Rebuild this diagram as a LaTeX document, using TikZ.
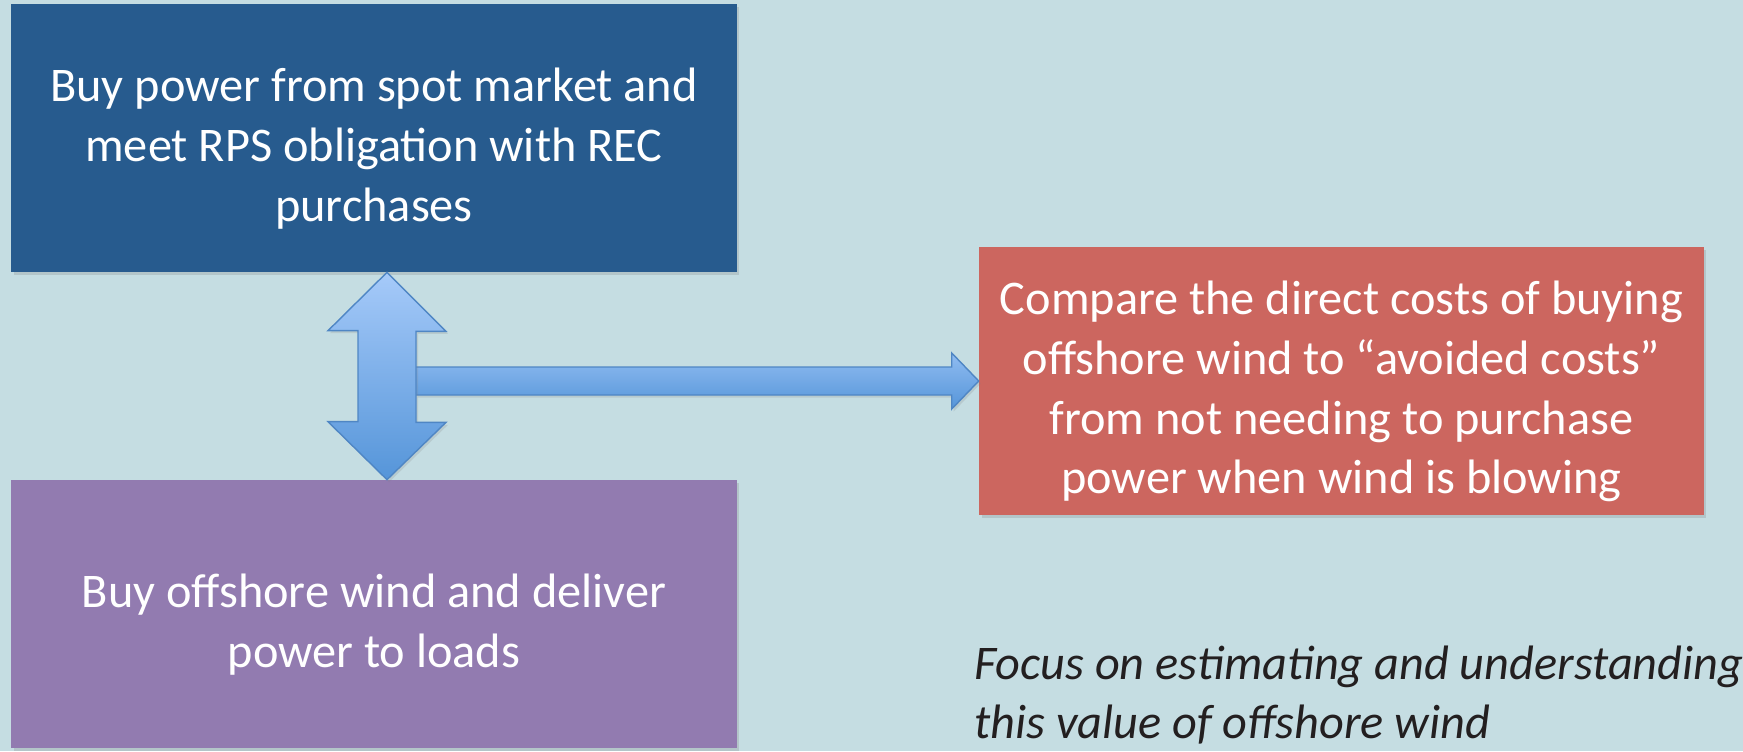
\documentclass[tikz,border=0pt]{standalone}
\usepackage{fontspec}
\setmainfont{Carlito}
\usetikzlibrary{shadows}
\newcommand{\boxstrut}{\rule{0pt}{1.1cm}}

\begin{document}
\begin{tikzpicture}[x=0.02cm,y=-0.02cm,
  planbox/.style={rectangle,minimum width=14.52cm,minimum height=5.36cm,text=white,align=center,
    font=\fontsize{27.5}{34}\selectfont,drop shadow={opacity=0.25,shadow xshift=0.05cm,shadow yshift=-0.06cm}},
  fatarrow/.style={draw=arrowline,line width=0.8pt,line join=miter,drop shadow={opacity=0.2,shadow xshift=0.04cm,shadow yshift=-0.05cm}}]
\definecolor{bgblue}{HTML}{C5DDE2}
\definecolor{spotblue}{HTML}{275B8E}
\definecolor{windpurple}{HTML}{927BB0}
\definecolor{costred}{HTML}{CC665F}
\definecolor{arrowtop}{HTML}{A6CAF9}
\definecolor{arrowmid}{HTML}{90BCF1}
\definecolor{arrowbot}{HTML}{5595D9}
\definecolor{arrowline}{HTML}{4F86C4}
\definecolor{notetext}{HTML}{231F20}
\fill[bgblue] (0,0) rectangle (1743,751);
\useasboundingbox (0,0) rectangle (1743,751);
\node [planbox,fill=spotblue] (spot) at (374,138) {\boxstrut Buy power from spot market and\\meet RPS obligation with REC\\purchases};
\node [planbox,fill=windpurple] (wind) at (374,614) {\boxstrut Buy offshore wind and deliver\\power to loads};
\node [planbox,fill=costred,minimum width=14.5cm] (cmp) at (1341.5,381) {\boxstrut Compare the direct costs of buying\\offshore wind to “avoided costs”\\from not needing to purchase\\power when wind is blowing};
\node [anchor=west,inner sep=0,align=left,text=notetext,font=\fontsize{27.5}{34}\selectfont\itshape] (focus) at (974,695) {Focus on estimating and understanding\\this value of offshore wind};
% block arrows
\coordinate (vt) at ([xshift=0.26cm]spot.south);
\coordinate (vb) at ([xshift=0.26cm]wind.north);
\coordinate (hs) at ([xshift=0.58cm]vt |- cmp.west);
\draw [fatarrow,top color=arrowmid,bottom color=arrowbot] ([yshift=0.28cm]hs) -- ([xshift=-0.54cm,yshift=0.28cm]cmp.west)
  -- ([xshift=-0.54cm,yshift=0.56cm]cmp.west) -- (cmp.west) -- ([xshift=-0.54cm,yshift=-0.56cm]cmp.west)
  -- ([xshift=-0.54cm,yshift=-0.28cm]cmp.west) -- ([yshift=-0.28cm]hs);
\draw [fatarrow,top color=arrowtop,bottom color=arrowbot] (vt) -- ++(59,59) -- ++(-30,0) -- ++(0,91) -- ++(30,0)
  -- (vb) -- ++(-59,-58) -- ++(30,0) -- ++(0,-91) -- ++(-30,0) -- cycle;
\end{tikzpicture}
\end{document}
